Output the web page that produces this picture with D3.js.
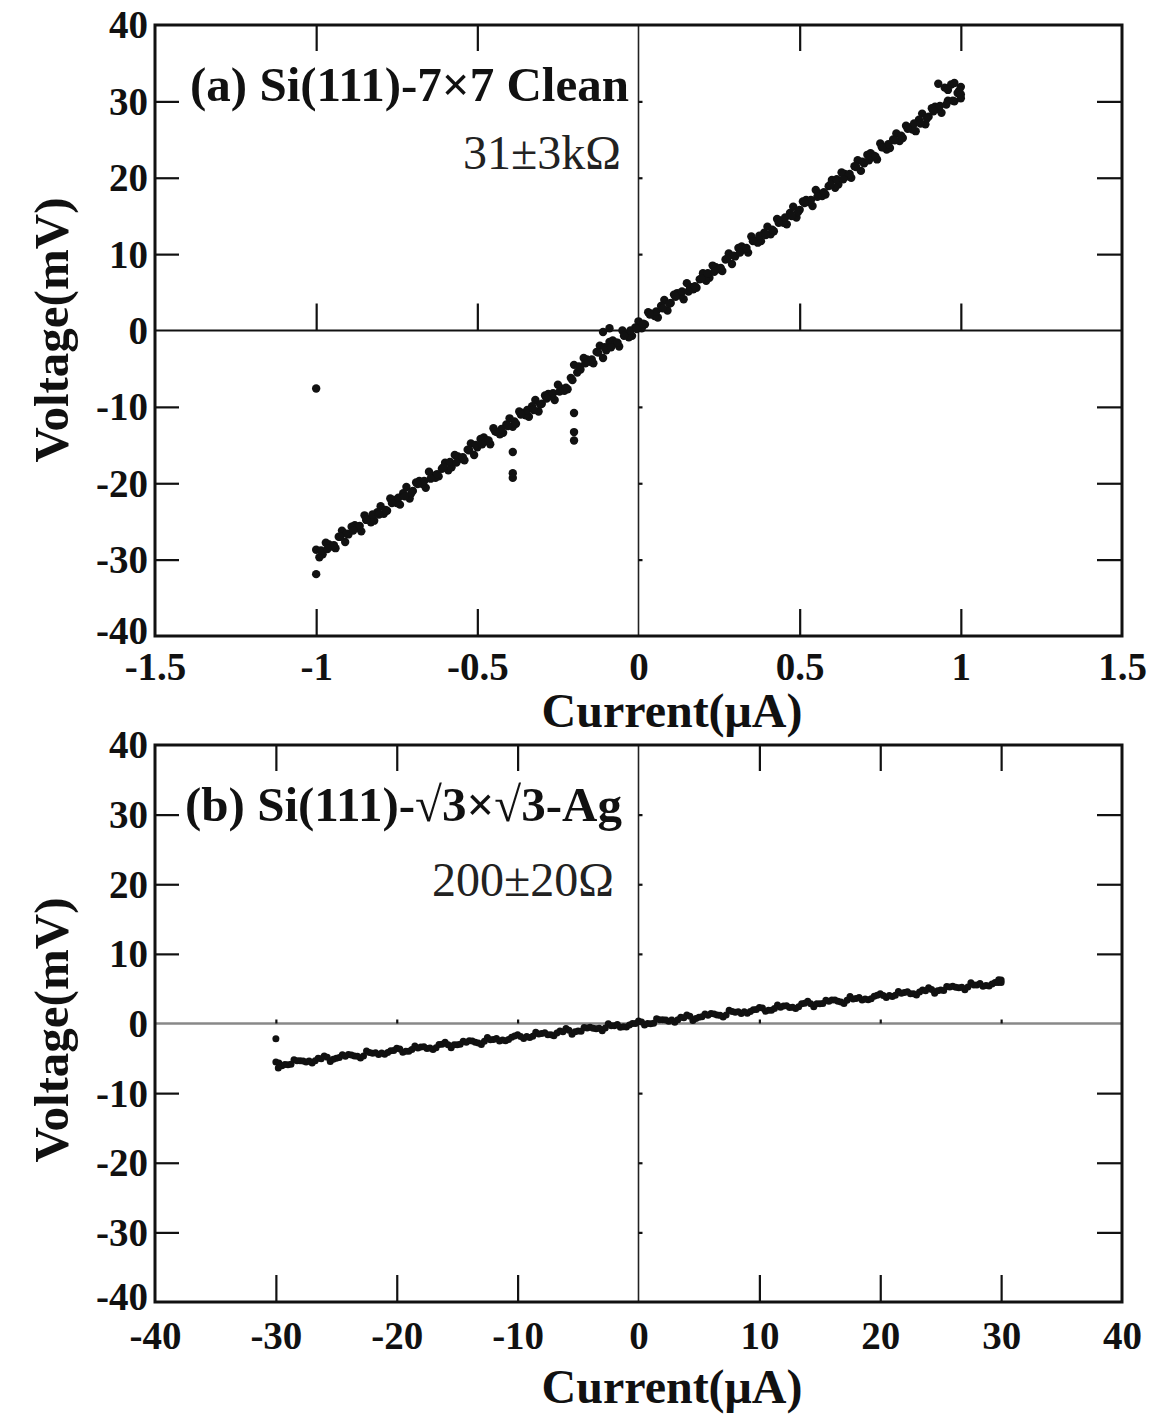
<!DOCTYPE html>
<html>
<head>
<meta charset="utf-8">
<script src="https://cdn.jsdelivr.net/npm/d3@7"></script>
<style>
  body { margin: 0; background: #fff; }
  svg { display: block; }
  .lbl { font-family: "Liberation Serif", "Times New Roman", serif; font-weight: bold; fill: #111; }
  .note { font-family: "Liberation Serif", "Times New Roman", serif; fill: #222; }
</style>
</head>
<body>
<svg id="chart" width="1171" height="1418"></svg>
<script>
// ---- panel (a): Si(111)-7x7 clean, current in uA, voltage in mV ----
const xTicksA = [-1.5, -1, -0.5, 0, 0.5, 1, 1.5];
const xMinorA = [-1, -0.5, 0.5, 1];
const yTicks = [-40, -30, -20, -10, 0, 10, 20, 30, 40];
const yInner = [-30, -20, -10, 10, 20, 30];

// sweeps
const sweepA1 = [
  [-1.00,-28.7],[-0.98,-29.3],[-0.96,-28.0],[-0.94,-28.5],[-0.92,-26.2],[-0.90,-26.7],[-0.88,-25.5],[-0.86,-26.3],
  [-0.84,-24.7],[-0.82,-24.9],[-0.80,-23.0],[-0.78,-23.6],[-0.76,-22.2],[-0.74,-22.8],[-0.72,-20.5],[-0.70,-21.0],
  [-0.68,-19.7],[-0.66,-20.6],[-0.64,-19.0],[-0.62,-19.1],[-0.60,-17.3],[-0.58,-17.9],[-0.56,-16.5],[-0.54,-17.0],
  [-0.52,-14.8],[-0.50,-15.3],[-0.48,-14.0],[-0.46,-14.9],[-0.44,-13.3],[-0.42,-13.4],[-0.40,-11.5],[-0.38,-12.2],
  [-0.36,-10.8],[-0.34,-11.3],[-0.32,-9.1],[-0.30,-9.6],[-0.28,-8.3],[-0.26,-9.1],[-0.24,-7.6],[-0.22,-7.7],
  [-0.20,-4.5],[-0.18,-5.1],[-0.16,-3.8],[-0.14,-4.3],[-0.12,-2.0],[-0.10,-2.6],[-0.08,-1.3],[-0.06,-2.1],
  [-0.04,-0.5],[-0.02,-0.7],[0.00,1.2],[0.02,0.8],[0.04,2.2],[0.06,1.7],[0.08,4.0],[0.10,3.6],
  [0.12,4.9],[0.14,4.1],[0.16,5.7],[0.18,5.6],[0.20,7.5],[0.22,6.9],[0.24,8.3],[0.26,7.8],
  [0.28,10.1],[0.30,9.7],[0.32,11.0],[0.34,10.2],[0.36,11.8],[0.38,11.7],[0.40,13.6],[0.42,13.0],
  [0.44,14.4],[0.46,13.9],[0.48,16.2],[0.50,15.8],[0.52,17.1],[0.54,16.3],[0.56,17.9],[0.58,17.8],
  [0.60,19.7],[0.62,19.1],[0.64,20.5],[0.66,20.0],[0.68,22.3],[0.70,21.9],[0.72,23.2],[0.74,22.4],
  [0.76,24.0],[0.78,23.9],[0.80,25.8],[0.82,25.2],[0.84,26.6],[0.86,26.1],[0.88,28.4],[0.90,28.0],
  [0.92,29.3],[0.94,28.5],[0.96,30.1],[0.98,30.0],[1.00,31.9]
];
const sweepA2 = [
  [-0.99,-29.7],[-0.97,-27.8],[-0.95,-28.3],[-0.93,-27.0],[-0.91,-27.7],[-0.89,-25.7],[-0.87,-25.8],[-0.85,-24.2],
  [-0.83,-25.1],[-0.81,-23.8],[-0.79,-24.0],[-0.77,-22.0],[-0.75,-22.6],[-0.73,-21.3],[-0.71,-22.0],[-0.69,-19.9],
  [-0.67,-20.1],[-0.65,-18.5],[-0.63,-19.3],[-0.61,-18.1],[-0.59,-18.3],[-0.57,-16.3],[-0.55,-16.8],[-0.53,-15.6],
  [-0.51,-16.3],[-0.49,-14.2],[-0.47,-14.4],[-0.45,-12.8],[-0.43,-13.6],[-0.41,-12.3],[-0.39,-12.6],[-0.37,-10.6],
  [-0.35,-11.1],[-0.33,-9.9],[-0.31,-10.6],[-0.29,-8.5],[-0.27,-8.6],[-0.25,-7.1],[-0.23,-7.9],[-0.21,-6.2],
  [-0.19,-5.5],[-0.17,-3.6],[-0.15,-4.1],[-0.13,-2.8],[-0.11,-3.6],[-0.09,-1.5],[-0.07,-1.6],[-0.05,0.0],
  [-0.03,-0.9],[-0.01,0.4],[0.01,0.3],[0.03,2.4],[0.05,1.9],[0.07,3.2],[0.09,2.6],[0.11,4.7],
  [0.13,4.6],[0.15,6.2],[0.17,5.4],[0.19,6.7],[0.21,6.5],[0.23,8.5],[0.25,8.0],[0.27,9.3],
  [0.29,8.7],[0.31,10.8],[0.33,10.7],[0.35,12.3],[0.37,11.5],[0.39,12.8],[0.41,12.6],[0.43,14.6],
  [0.45,14.1],[0.47,15.4],[0.49,14.8],[0.51,16.9],[0.53,16.8],[0.55,18.4],[0.57,17.6],[0.59,18.9],
  [0.61,18.7],[0.63,20.7],[0.65,20.2],[0.67,21.5],[0.69,20.9],[0.71,23.0],[0.73,22.9],[0.75,24.5],
  [0.77,23.7],[0.79,25.0],[0.81,24.8],[0.83,26.8],[0.85,26.3],[0.87,27.6],[0.89,27.0],[0.91,29.1],
  [0.93,29.0],[0.95,31.8],[0.97,32.2],[0.99,31.1]
];
const sweepA3 = [
  [-0.985,-28.8],[-0.945,-28.1],[-0.905,-26.6],[-0.865,-25.6],[-0.825,-24.1],[-0.785,-23.5],[-0.745,-21.9],[-0.705,-21.3],
  [-0.665,-19.7],[-0.625,-18.8],[-0.585,-17.2],[-0.545,-16.6],[-0.505,-15.0],[-0.465,-14.4],[-0.425,-12.9],[-0.385,-11.9],
  [-0.345,-10.4],[-0.305,-9.7],[-0.265,-8.2],[-0.225,-7.5],[-0.185,-4.7],[-0.145,-3.8],[-0.105,-2.2],[-0.065,-1.6],
  [-0.025,0.0],[0.015,0.9],[0.055,2.5],[0.095,3.5],[0.135,5.1],[0.175,5.8],[0.215,7.5],[0.255,8.2],
  [0.295,9.8],[0.335,10.8],[0.375,12.4],[0.415,13.2],[0.455,14.8],[0.495,15.5],[0.535,17.1],[0.575,18.1],
  [0.615,19.8],[0.655,20.5],[0.695,22.1],[0.735,22.8],[0.775,24.4],[0.815,25.5],[0.855,27.1],[0.895,27.8],
  [0.935,29.4],[0.975,30.1]
];
const sweepA4 = [
  [-0.965,-28.6],[-0.925,-27.0],[-0.885,-26.2],[-0.845,-24.8],[-0.805,-24.1],[-0.765,-22.6],[-0.725,-21.7],[-0.685,-20.1],
  [-0.645,-19.4],[-0.605,-17.9],[-0.565,-17.3],[-0.525,-15.7],[-0.485,-14.9],[-0.445,-13.2],[-0.405,-12.5],[-0.365,-11.0],
  [-0.325,-10.4],[-0.285,-8.9],[-0.245,-8.0],[-0.205,-6.5],[-0.165,-4.3],[-0.125,-2.9],[-0.085,-2.2],[-0.045,-0.7],
  [-0.005,0.2],[0.035,2.1],[0.075,2.9],[0.115,4.4],[0.155,5.1],[0.195,6.8],[0.235,7.7],[0.275,9.4],
  [0.315,10.2],[0.355,11.7],[0.395,12.5],[0.435,14.1],[0.475,15.0],[0.515,16.7],[0.555,17.5],[0.595,19.1],
  [0.635,19.8],[0.675,21.4],[0.715,22.3],[0.755,24.0],[0.795,24.9],[0.835,26.4],[0.875,27.1],[0.915,28.7],
  [0.955,29.6],[0.995,31.4]
];
// stray points off the main line
const strayA = [
  [-1.00,-7.6],[-1.00,-31.9],[-0.39,-15.9],[-0.39,-18.7],[-0.39,-19.3],
  [-0.20,-10.8],[-0.20,-13.3],[-0.20,-14.4],[-0.11,-0.2],[-0.09,0.3],
  [0.93,32.3],[0.96,31.5],[0.98,32.4],[1.00,30.4],[1.00,30.9]
];

// ---- panel (b): Si(111)-sqrt3 x sqrt3-Ag ----
const xTicksB = [-40, -30, -20, -10, 0, 10, 20, 30, 40];
const xMinorB = [-30, -20, -10, 10, 20, 30];

const sweepB1 = [
  [-30,-5.53],[-29,-5.93],[-28,-5.34],[-27,-5.69],[-26,-4.65],[-25,-5.00],[-24,-4.45],[-23,-4.96],[-22,-4.26],[-21,-4.42],
  [-20,-3.57],[-19,-3.97],[-18,-3.38],[-17,-3.73],[-16,-2.69],[-15,-3.04],[-14,-2.49],[-13,-3.00],[-12,-2.30],[-11,-2.46],
  [-10,-1.61],[-9,-2.01],[-8,-1.42],[-7,-1.77],[-6,-0.73],[-5,-1.08],[-4,-0.53],[-3,-1.04],[-2,-0.34],[-1,-0.50],
  [0,0.35],[1,-0.05],[2,0.54],[3,0.19],[4,1.23],[5,0.88],[6,1.43],[7,0.92],[8,1.62],[9,1.46],
  [10,2.31],[11,1.91],[12,2.50],[13,2.15],[14,3.19],[15,2.84],[16,3.39],[17,2.88],[18,3.58],[19,3.42],
  [20,4.27],[21,3.87],[22,4.46],[23,4.11],[24,5.15],[25,4.80],[26,5.35],[27,4.84],[28,5.54],[29,5.38],[30,6.23]
];
const sweepB2 = [
  [-29.5,-6.08],[-28.5,-5.19],[-27.5,-5.54],[-26.5,-4.99],[-25.5,-5.45],[-24.5,-4.50],[-23.5,-4.66],[-22.5,-3.96],[-21.5,-4.46],[-20.5,-3.92],
  [-19.5,-4.12],[-18.5,-3.23],[-17.5,-3.58],[-16.5,-3.03],[-15.5,-3.49],[-14.5,-2.54],[-13.5,-2.70],[-12.5,-2.00],[-11.5,-2.50],[-10.5,-1.96],
  [-9.5,-2.16],[-8.5,-1.27],[-7.5,-1.62],[-6.5,-1.07],[-5.5,-1.53],[-4.5,-0.58],[-3.5,-0.74],[-2.5,-0.04],[-1.5,-0.54],[-0.5,0.00],
  [0.5,-0.20],[1.5,0.69],[2.5,0.34],[3.5,0.89],[4.5,0.43],[5.5,1.38],[6.5,1.22],[7.5,1.92],[8.5,1.42],[9.5,1.96],
  [10.5,1.76],[11.5,2.65],[12.5,2.30],[13.5,2.85],[14.5,2.39],[15.5,3.34],[16.5,3.18],[17.5,3.88],[18.5,3.38],[19.5,3.92],
  [20.5,3.72],[21.5,4.61],[22.5,4.26],[23.5,4.81],[24.5,4.35],[25.5,5.30],[26.5,5.14],[27.5,5.84],[28.5,5.34],[29.5,5.88]
];
const sweepB3 = [
  [-29.75,-5.68],[-28.75,-5.84],[-27.75,-5.39],[-26.75,-5.34],[-25.75,-4.85],[-24.75,-4.90],[-23.75,-4.51],[-22.75,-4.66],[-21.75,-4.21],[-20.75,-4.17],
  [-19.75,-3.67],[-18.75,-3.73],[-17.75,-3.33],[-16.75,-3.48],[-15.75,-3.04],[-14.75,-2.99],[-13.75,-2.50],[-12.75,-2.55],[-11.75,-2.15],[-10.75,-2.31],
  [-9.75,-1.86],[-8.75,-1.82],[-7.75,-1.32],[-6.75,-1.37],[-5.75,-0.98],[-4.75,-1.13],[-3.75,-0.69],[-2.75,-0.64],[-1.75,-0.14],[-0.75,-0.20],
  [0.25,0.20],[1.25,0.05],[2.25,0.49],[3.25,0.54],[4.25,1.03],[5.25,0.98],[6.25,1.38],[7.25,1.22],[8.25,1.67],[9.25,1.71],
  [10.25,2.21],[11.25,2.16],[12.25,2.55],[13.25,2.40],[14.25,2.84],[15.25,2.89],[16.25,3.39],[17.25,3.33],[18.25,3.73],[19.25,3.57],
  [20.25,4.02],[21.25,4.07],[22.25,4.56],[23.25,4.51],[24.25,4.90],[25.25,4.75],[26.25,5.20],[27.25,5.24],[28.25,5.74],[29.25,5.68]
];
const sweepB4 = [
  [-29.25,-5.88],[-28.25,-5.34],[-27.25,-5.39],[-26.25,-5.05],[-25.25,-5.15],[-24.25,-4.70],[-23.25,-4.71],[-22.25,-4.16],[-21.25,-4.22],[-20.25,-3.87],
  [-19.25,-3.97],[-18.25,-3.53],[-17.25,-3.53],[-16.25,-2.99],[-15.25,-3.04],[-14.25,-2.69],[-13.25,-2.80],[-12.25,-2.35],[-11.25,-2.36],[-10.25,-1.81],
  [-9.25,-1.86],[-8.25,-1.52],[-7.25,-1.62],[-6.25,-1.18],[-5.25,-1.18],[-4.25,-0.63],[-3.25,-0.69],[-2.25,-0.34],[-1.25,-0.45],[-0.25,0.00],
  [0.75,0.00],[1.75,0.54],[2.75,0.49],[3.75,0.84],[4.75,0.73],[5.75,1.18],[6.75,1.17],[7.75,1.72],[8.75,1.67],[9.75,2.01],
  [10.75,1.91],[11.75,2.35],[12.75,2.35],[13.75,2.90],[14.75,2.84],[15.75,3.19],[16.75,3.08],[17.75,3.53],[18.75,3.53],[19.75,4.07],
  [20.75,4.02],[21.75,4.36],[22.75,4.26],[23.75,4.71],[24.75,4.70],[25.75,5.25],[26.75,5.19],[27.75,5.54],[28.75,5.44],[29.75,5.88]
];
const strayB = [[-30,-2.2],[-29.8,-6.4],[30,5.9],[29.8,6.3]];

const svg = d3.select("#chart");
const fontFam = '"Liberation Serif", "Times New Roman", serif';

const drawPanel = (opt) => {
  const x = d3.scaleLinear().domain(opt.xDomain).range([155, 1122]);
  const y = d3.scaleLinear().domain([-40, 40]).range([opt.bottom, opt.top]);
  const g = svg.append("g");

  // zero lines
  g.append("line")
    .attr("x1", x.range()[0]).attr("x2", x.range()[1])
    .attr("y1", y(0)).attr("y2", y(0))
    .attr("stroke", opt.zeroColor).attr("stroke-width", opt.zeroWidth);
  g.append("line")
    .attr("x1", x(0)).attr("x2", x(0))
    .attr("y1", opt.top).attr("y2", opt.bottom)
    .attr("stroke", "#222").attr("stroke-width", 1.6);

  // inward ticks
  const tickAxes = [
    [d3.axisTop(x).tickValues(opt.xMinor).tickSize(-26), `translate(0,${opt.top})`],
    [d3.axisBottom(x).tickValues(opt.xMinor).tickSize(-27), `translate(0,${opt.bottom})`],
    [d3.axisTop(x).tickValues(opt.xMinor).tickSize(opt.zeroTick), `translate(0,${y(0)})`],
    [d3.axisLeft(y).tickValues(yInner).tickSize(-24), `translate(${x.range()[0]},0)`],
    [d3.axisRight(y).tickValues(yInner).tickSize(-25), `translate(${x.range()[1]},0)`],
    [d3.axisRight(y).tickValues(yInner).tickSize(4), `translate(${x(0)},0)`]
  ];
  tickAxes.forEach(([ax, tr]) => {
    const a = g.append("g").attr("transform", tr).call(ax.tickFormat(""));
    a.select(".domain").remove();
    a.selectAll("line").attr("stroke", "#111").attr("stroke-width", 2.2);
  });

  // frame
  g.append("rect")
    .attr("x", x.range()[0]).attr("y", opt.top)
    .attr("width", x.range()[1] - x.range()[0]).attr("height", opt.bottom - opt.top)
    .attr("fill", "none").attr("stroke", "#111").attr("stroke-width", 3);

  // tick labels
  const xl = g.append("g")
    .attr("transform", `translate(0,${opt.bottom})`)
    .call(d3.axisBottom(x).tickValues(opt.xTicks).tickSize(0).tickPadding(opt.labelPad).tickFormat((d) => String(d)));
  xl.select(".domain").remove();
  xl.selectAll("text").attr("font-size", 39).attr("font-family", fontFam).attr("font-weight", "bold").attr("fill", "#111");

  const yl = g.append("g")
    .attr("transform", `translate(${x.range()[0]},0)`)
    .call(d3.axisLeft(y).tickValues(yTicks).tickSize(0).tickPadding(7).tickFormat((d) => String(d)));
  yl.select(".domain").remove();
  yl.selectAll("text").attr("font-size", 39).attr("font-family", fontFam).attr("font-weight", "bold").attr("fill", "#111")
    .attr("dy", (d) => (d === -40 ? "0.18em" : "0.33em"));

  // axis titles
  g.append("text").attr("class", "lbl")
    .attr("x", 672).attr("y", opt.xTitleY)
    .attr("text-anchor", "middle").attr("font-size", 48)
    .text("Current(\u03BCA)");
  g.append("text").attr("class", "lbl")
    .attr("transform", `translate(68,${opt.yTitleY}) rotate(-90)`)
    .attr("text-anchor", "middle").attr("font-size", 49)
    .text("Voltage(mV)");

  // panel caption + resistance
  g.append("text").attr("class", "lbl")
    .attr("x", opt.captionX).attr("y", opt.captionY)
    .attr("font-size", 49)
    .text(opt.caption);
  g.append("text").attr("class", "note")
    .attr("x", opt.noteX).attr("y", opt.noteY)
    .attr("text-anchor", "end").attr("font-size", 48)
    .text(opt.note);

  // data points
  const pts = g.append("g");
  [...opt.data, ...opt.stray].forEach((d) => {
    pts.append("circle")
      .attr("cx", x(d[0])).attr("cy", y(d[1]))
      .attr("r", opt.r).attr("fill", "#111");
  });
};

drawPanel({
  xDomain: [-1.5, 1.5], top: 25, bottom: 636,
  xTicks: xTicksA, xMinor: xMinorA,
  zeroColor: "#111", zeroWidth: 2.2, zeroTick: 27,
  labelPad: 16, xTitleY: 727, yTitleY: 330,
  caption: "(a) Si(111)-7\u00D77 Clean", captionX: 190, captionY: 101,
  note: "31\u00B13k\u03A9", noteX: 621, noteY: 169,
  data: [...sweepA1, ...sweepA2, ...sweepA3, ...sweepA4], stray: strayA, r: 4.2
});

drawPanel({
  xDomain: [-40, 40], top: 745, bottom: 1302,
  xTicks: xTicksB, xMinor: xMinorB,
  zeroColor: "#888", zeroWidth: 2.6, zeroTick: 4,
  labelPad: 19, xTitleY: 1403, yTitleY: 1030,
  caption: "(b) Si(111)-\u221A3\u00D7\u221A3-Ag", captionX: 185, captionY: 821,
  note: "200\u00B120\u03A9", noteX: 614, noteY: 896,
  data: [...sweepB1, ...sweepB2, ...sweepB3, ...sweepB4], stray: strayB, r: 3.5
});
</script>
</body>
</html>
